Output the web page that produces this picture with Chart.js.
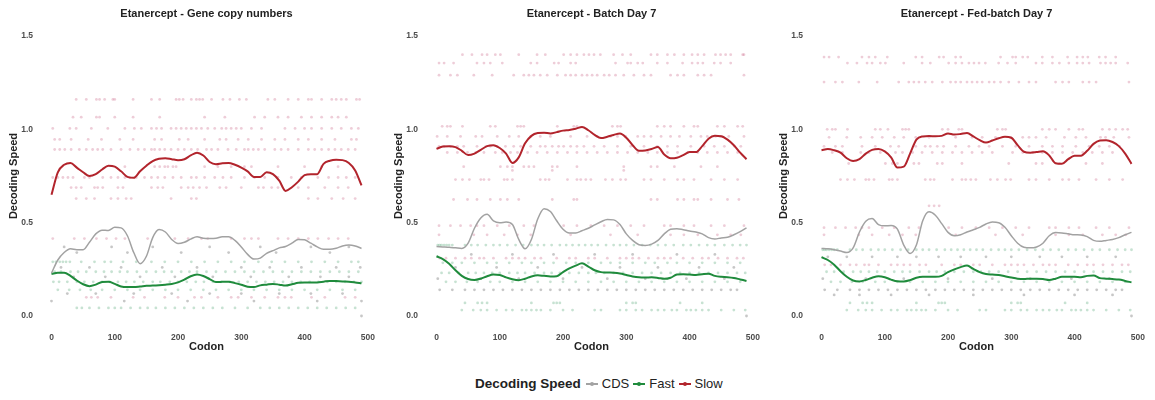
<!DOCTYPE html>
<html>
<head>
<meta charset="utf-8">
<title>Etanercept decoding speed</title>
<script src="https://cdn.jsdelivr.net/npm/chart.js@4/dist/chart.umd.min.js"></script>
<style>
  html, body { margin: 0; padding: 0; background: #fff; }
  body { width: 1155px; height: 400px; position: relative; overflow: hidden;
         font-family: 'Liberation Sans', Arial, sans-serif; }
  .row { display: flex; }
  .row canvas { display: block; }
  #legend { position: absolute; left: 475px; top: 376px; display: flex; align-items: center;
            color: #222; font-size: 13px; white-space: nowrap; }
  #legend .head { font-weight: bold; font-size: 13.5px; margin-right: 5px; }
  #legend .key { position: relative; width: 12px; height: 12px; margin-right: 4px; }
  #legend .key i { position: absolute; left: 0; right: 0; top: 5px; height: 2px; }
  #legend .key b { position: absolute; left: 4px; top: 4px; width: 4px; height: 4px; border-radius: 50%; }
  #legend .lab { margin-right: 4px; }
</style>
</head>
<body>
<div class="row">
  <canvas id="c0" width="385" height="360"></canvas>
  <canvas id="c1" width="385" height="360"></canvas>
  <canvas id="c2" width="385" height="360"></canvas>
</div>
<div id="legend"></div>
<script>
var panelTitles = ['Etanercept - Gene copy numbers', 'Etanercept - Batch Day 7', 'Etanercept - Fed-batch Day 7'];
var speedNames = ['CDS', 'Fast', 'Slow'];
var xTicks = [0, 100, 200, 300, 400, 500];
var yTicks = [0, 0.5, 1.0, 1.5];

// codon positions of the smoothed curves
var codons = [0, 10, 20, 30, 40, 50, 60, 70, 80, 90, 100, 110, 120, 130, 140, 150, 160, 170, 180, 190,
  200, 210, 220, 230, 240, 250, 260, 270, 280, 290, 300, 310, 320, 330, 340, 350, 360, 370, 380, 390,
  400, 410, 420, 430, 440, 450, 460, 470, 480, 490];

// gene copy numbers
var geneSlow = [0.65, 0.77, 0.81, 0.82, 0.795, 0.77, 0.75, 0.76, 0.785, 0.805, 0.80, 0.775, 0.745, 0.74, 0.775,
  0.805, 0.83, 0.842, 0.845, 0.84, 0.835, 0.84, 0.86, 0.875, 0.86, 0.825, 0.813, 0.818, 0.82, 0.81,
  0.795, 0.775, 0.745, 0.745, 0.77, 0.76, 0.725, 0.67, 0.69, 0.72, 0.755, 0.76, 0.76, 0.815, 0.832,
  0.837, 0.835, 0.82, 0.78, 0.70];
var geneCds = [0.23, 0.30, 0.34, 0.36, 0.355, 0.355, 0.395, 0.44, 0.46, 0.458, 0.475, 0.472, 0.43, 0.34, 0.28,
  0.32, 0.42, 0.463, 0.45, 0.41, 0.388, 0.395, 0.412, 0.425, 0.416, 0.415, 0.416, 0.425, 0.425, 0.405,
  0.37, 0.33, 0.305, 0.31, 0.336, 0.35, 0.365, 0.372, 0.39, 0.41, 0.408, 0.39, 0.37, 0.357, 0.357,
  0.363, 0.375, 0.38, 0.375, 0.362];
var geneFast = [0.225, 0.232, 0.232, 0.215, 0.19, 0.17, 0.16, 0.168, 0.182, 0.183, 0.172, 0.158, 0.155, 0.155, 0.158,
  0.162, 0.163, 0.165, 0.168, 0.172, 0.18, 0.195, 0.213, 0.222, 0.214, 0.198, 0.182, 0.183, 0.184, 0.176,
  0.167, 0.157, 0.155, 0.164, 0.168, 0.172, 0.168, 0.163, 0.17, 0.178, 0.18, 0.18, 0.18, 0.184, 0.188,
  0.187, 0.185, 0.184, 0.18, 0.175];

// batch day 7
var batchSlow = [0.895, 0.908, 0.91, 0.905, 0.885, 0.862, 0.87, 0.89, 0.91, 0.915, 0.90, 0.87, 0.82, 0.85, 0.925,
  0.965, 0.98, 0.982, 0.978, 0.985, 0.993, 0.997, 1.003, 1.013, 0.995, 0.97, 0.953, 0.96, 0.97, 0.978,
  0.955, 0.915, 0.885, 0.887, 0.895, 0.905, 0.865, 0.845, 0.848, 0.862, 0.878, 0.878, 0.91, 0.95, 0.965,
  0.963, 0.945, 0.915, 0.875, 0.84];
var batchCds = [0.372, 0.37, 0.368, 0.365, 0.362, 0.39, 0.47, 0.525, 0.545, 0.51, 0.50, 0.503, 0.49, 0.41, 0.36,
  0.41, 0.52, 0.575, 0.56, 0.51, 0.465, 0.445, 0.445, 0.457, 0.47, 0.488, 0.505, 0.517, 0.515, 0.49,
  0.44, 0.405, 0.382, 0.378, 0.385, 0.405, 0.44, 0.465, 0.468, 0.462, 0.455, 0.45, 0.44, 0.42, 0.413,
  0.418, 0.422, 0.435, 0.452, 0.472];
var batchFast = [0.32, 0.305, 0.28, 0.245, 0.215, 0.198, 0.193, 0.20, 0.213, 0.222, 0.22, 0.207, 0.197, 0.192, 0.20,
  0.212, 0.218, 0.215, 0.212, 0.213, 0.235, 0.255, 0.27, 0.282, 0.265, 0.245, 0.235, 0.233, 0.232, 0.228,
  0.22, 0.212, 0.207, 0.206, 0.207, 0.204, 0.199, 0.205, 0.222, 0.224, 0.222, 0.22, 0.224, 0.227, 0.215,
  0.21, 0.208, 0.204, 0.196, 0.188];

// fed-batch day 7
var fedSlow = [0.888, 0.895, 0.888, 0.875, 0.845, 0.83, 0.84, 0.87, 0.89, 0.895, 0.882, 0.85, 0.795, 0.80, 0.87,
  0.945, 0.962, 0.964, 0.963, 0.965, 0.978, 0.972, 0.975, 0.98, 0.962, 0.942, 0.929, 0.94, 0.952, 0.96,
  0.955, 0.915, 0.88, 0.875, 0.878, 0.882, 0.86, 0.818, 0.815, 0.84, 0.858, 0.859, 0.885, 0.922, 0.94,
  0.942, 0.932, 0.91, 0.87, 0.815];
var fedCds = [0.362, 0.36, 0.355, 0.348, 0.34, 0.365, 0.45, 0.508, 0.522, 0.49, 0.483, 0.485, 0.465, 0.38, 0.335,
  0.38, 0.51, 0.558, 0.54, 0.495, 0.448, 0.43, 0.435, 0.45, 0.462, 0.475, 0.493, 0.503, 0.50, 0.475,
  0.43, 0.39, 0.368, 0.365, 0.37, 0.39, 0.43, 0.447, 0.445, 0.44, 0.435, 0.434, 0.425, 0.405, 0.40,
  0.405, 0.41, 0.42, 0.435, 0.448];
var fedFast = [0.315, 0.30, 0.275, 0.24, 0.21, 0.19, 0.185, 0.193, 0.205, 0.213, 0.208, 0.195, 0.186, 0.185, 0.192,
  0.205, 0.21, 0.21, 0.21, 0.215, 0.235, 0.25, 0.262, 0.27, 0.252, 0.235, 0.225, 0.222, 0.22, 0.213,
  0.206, 0.20, 0.198, 0.20, 0.20, 0.198, 0.193, 0.20, 0.21, 0.21, 0.21, 0.207, 0.215, 0.217, 0.203,
  0.20, 0.198, 0.195, 0.188, 0.18];

// per-codon speeds, one row per speed level: [speed, [codons]]
var geneSlowDots = [
  [1.16, [39, 55, 71, 76, 84, 97, 100, 129, 158, 171, 197, 202, 208, 221, 229, 234, 239, 253, 271, 282, 297, 308, 342, 353, 374, 390, 406, 411, 427, 443, 450, 458, 466, 482, 487]],
  [1.065, [34, 47, 71, 76, 100, 129, 171, 242, 274, 321, 337, 358, 374, 395, 411, 427, 443, 453, 466]],
  [1.005, [2, 29, 39, 63, 89, 116, 131, 142, 158, 166, 174, 189, 197, 205, 213, 221, 229, 237, 247, 258, 269, 276, 284, 292, 300, 316, 332, 369, 385, 400, 411, 427, 443, 458, 474, 485]],
  [0.946, [5, 13, 31, 58, 79, 108, 129, 163, 174, 202, 216, 242, 266, 276, 295, 311, 332, 353, 369, 390, 406, 427, 448, 474, 482]],
  [0.892, [5, 13, 21, 31, 44, 55, 65, 73, 81, 94, 110, 124, 137, 147, 158, 163, 171, 179, 189, 200, 210, 221, 231, 245, 253, 263, 279, 292, 305, 311, 319, 327, 337, 353, 363, 374, 390, 406, 416, 427, 438, 448, 458, 469, 480]],
  [0.80, [116, 163, 171, 179, 184, 192, 197, 242, 263, 284, 305, 316, 358, 400, 427, 453]],
  [0.742, [2, 10, 18, 26, 34, 52, 60, 81, 94, 105, 116, 124, 134, 147, 158, 168, 179, 192, 205, 221, 229, 242, 258, 271, 284, 305, 321, 337, 358, 379, 395, 421, 438, 453, 466, 480]],
  [0.688, [31, 39, 47, 68, 73, 81, 105, 113, 158, 168, 176, 205, 216, 224, 234, 245, 266, 276, 300, 327, 335, 348, 358, 390, 406, 432, 453, 469]],
  [0.629, [39, 55, 68, 94, 105, 118, 126, 189, 221, 229, 406, 421, 443, 461, 480]],
  [0.415, [2, 36, 52, 71, 87, 102, 116, 152, 195, 216, 237, 247, 284, 305, 316, 327, 358, 374, 390, 406, 421, 438, 453, 469]],
  [0.10, [55, 63, 73, 94, 129, 147, 179, 200, 226, 237, 263, 284, 295, 316, 337, 358, 369, 379, 411, 432, 464, 480]]
];
var geneFastDots = [
  [0.29, [2, 7, 13, 18, 23, 29, 47, 68, 84, 94, 113, 134, 158, 179, 200, 221, 242, 263, 284, 305, 327, 348, 369, 390, 411, 432, 453, 474, 485]],
  [0.237, [5, 15, 30, 42, 55, 70, 83, 95, 108, 120, 135, 150, 165, 178, 190, 205, 218, 230, 245, 260, 275, 290, 305, 320, 335, 350, 365, 380, 395, 410, 425, 440, 455, 470, 485]],
  [0.183, [3, 12, 25, 40, 52, 66, 80, 92, 105, 118, 131, 145, 160, 172, 187, 200, 214, 228, 241, 255, 268, 282, 296, 310, 324, 338, 352, 366, 380, 394, 408, 422, 436, 450, 464, 478, 490]],
  [0.14, [10, 28, 45, 62, 80, 100, 120, 140, 160, 180, 200, 220, 240, 260, 280, 300, 320, 340, 360, 380, 400, 420, 440, 460, 480]],
  [0.043, [40, 48, 60, 75, 90, 100, 110, 125, 140, 152, 165, 180, 195, 210, 225, 240, 255, 270, 290, 310, 330, 345, 360, 375, 390, 405, 420, 435, 450, 465, 480]]
];
var geneCdsDots = [
  [0.37, [20, 95, 160, 250, 330, 410, 470]],
  [0.34, [40, 120, 205, 280, 355, 440]],
  [0.26, [15, 60, 110, 175, 230, 300, 345, 395, 450, 488]],
  [0.21, [35, 85, 140, 195, 255, 315, 375, 425, 470]],
  [0.12, [25, 70, 130, 190, 250, 300, 360, 410, 460]],
  [0.08, [0, 115, 215, 320, 420, 490]],
  [0.0, [490]]
];

var batchSlowDots = [
  [1.40, [41, 56, 72, 80, 93, 101, 130, 159, 172, 201, 212, 222, 233, 241, 249, 259, 280, 294, 307, 339, 349, 365, 376, 391, 404, 413, 423, 441, 449, 457, 465, 484, 486]],
  [1.355, [4, 12, 27, 64, 75, 85, 104, 149, 159, 186, 193, 212, 220, 283, 302, 307, 318, 326, 349, 365, 389, 404, 413, 421, 439, 449, 465]],
  [1.29, [4, 22, 33, 59, 88, 122, 138, 146, 154, 164, 175, 191, 204, 212, 220, 230, 238, 246, 254, 265, 273, 283, 296, 312, 328, 339, 370, 381, 391, 413, 423, 434, 486]],
  [1.016, [9, 17, 22, 41, 85, 93, 128, 133, 138, 191, 217, 222, 278, 286, 291, 349, 360, 370, 391, 407, 413, 444, 455, 476, 484]],
  [0.962, [1, 17, 38, 62, 72, 96, 115, 130, 149, 164, 180, 212, 238, 254, 275, 286, 299, 318, 328, 339, 355, 370, 384, 402, 418, 428, 441, 449, 462, 486]],
  [0.909, [4, 12, 22, 33, 43, 64, 78, 85, 96, 109, 122, 133, 149, 164, 172, 183, 193, 201, 212, 222, 233, 249, 265, 286, 307, 328, 349, 365, 381, 402, 423, 439, 455, 471, 481]],
  [0.876, [17, 33, 49, 62, 75, 93, 104, 117, 128, 144, 159, 175, 191, 207, 222, 238, 254, 270, 286, 302, 318, 334, 349, 365, 381, 397, 413, 428, 444, 460, 476]],
  [0.80, [43, 101, 112, 120, 138, 146, 154, 183, 191, 222, 296, 339, 349, 376, 418, 444]],
  [0.78, [120, 183, 296]],
  [0.731, [30, 41, 52, 70, 75, 83, 107, 112, 120, 164, 172, 178, 207, 222, 228, 236, 244, 267, 278, 291, 299, 328, 339, 360, 381, 391, 407, 434, 455, 476]],
  [0.624, [27, 49, 64, 85, 101, 112, 130, 183, 217, 222, 339, 349, 381, 391, 407, 413, 434, 460, 478]],
  [0.484, [4, 22, 38, 54, 64, 75, 96, 115, 138, 154, 201, 222, 244, 265, 286, 307, 328, 360, 370, 391, 407, 434, 455, 486]],
  [0.435, [4, 59, 80, 107, 128, 149, 212, 275, 318, 370, 391, 413, 444, 465, 481]],
  [0.31, [5, 15, 30, 45, 55, 68, 75, 90, 110, 120, 130, 140, 155, 165, 190, 210, 220, 240, 250, 270, 290, 300, 310, 320, 335, 350, 360, 370, 390, 405, 420, 430, 445, 460, 475, 485]]
];
var batchFastDots = [
  [0.38, [2, 5, 8, 12, 16, 20, 25, 45, 55, 65, 78, 90, 100, 112, 125, 137, 150, 160, 170, 182, 195, 205, 215, 225, 235, 245, 255, 268, 280, 290, 300, 312, 325, 338, 350, 362, 375, 390, 402, 415, 428, 440, 455, 468, 480, 490]],
  [0.285, [10, 25, 40, 60, 80, 95, 115, 135, 150, 170, 185, 205, 220, 240, 260, 275, 290, 310, 330, 345, 365, 380, 400, 420, 440, 460, 480]],
  [0.231, [8, 20, 35, 50, 62, 75, 88, 100, 115, 128, 140, 155, 170, 182, 195, 210, 225, 240, 252, 265, 280, 295, 310, 325, 340, 355, 370, 385, 400, 415, 430, 445, 460, 475, 488]],
  [0.183, [15, 30, 48, 65, 85, 100, 120, 140, 160, 180, 200, 220, 240, 260, 280, 300, 320, 340, 360, 380, 400, 420, 440, 460, 480]],
  [0.07, [45, 65, 72, 80, 150, 185, 190, 195, 300, 310, 315, 385, 420]],
  [0.032, [40, 58, 70, 80, 95, 110, 120, 135, 142, 150, 158, 165, 180, 200, 215, 250, 260, 290, 300, 315, 325, 340, 350, 360, 372, 380, 395, 402, 410, 420, 430, 450, 470, 488]]
];
var batchCdsDots = [
  [0.33, [55, 120, 185, 250, 310, 380, 440]],
  [0.26, [30, 95, 160, 230, 290, 350, 415, 470]],
  [0.20, [2, 70, 130, 200, 270, 330, 395, 455]],
  [0.14, [5, 25, 45, 60, 75, 90, 105, 120, 135, 150, 165, 180, 195, 210, 225, 240, 255, 270, 285, 300, 315, 330, 345, 360, 375, 390, 405, 420, 435, 450, 465, 475]],
  [0.0, [490]]
];

var fedSlowDots = [
  [1.387, [4, 12, 27, 64, 75, 85, 104, 149, 159, 186, 193, 212, 220, 283, 302, 307, 318, 326, 349, 365, 389, 404, 413, 421, 439, 449, 465]],
  [1.355, [41, 56, 72, 80, 93, 101, 130, 159, 172, 201, 212, 222, 233, 241, 249, 259, 280, 294, 307, 339, 349, 365, 376, 391, 404, 413, 423, 441, 449, 457, 465, 484]],
  [1.253, [4, 22, 33, 59, 88, 122, 138, 146, 154, 164, 175, 191, 204, 212, 220, 230, 238, 246, 254, 265, 273, 283, 296, 312, 328, 339, 370, 381, 391, 413, 423, 434, 486]],
  [1.0, [9, 17, 22, 41, 85, 93, 105, 128, 133, 138, 191, 200, 217, 222, 278, 286, 291, 349, 360, 370, 391, 407, 413, 444, 455, 465, 476, 484]],
  [0.957, [12, 40, 62, 80, 96, 115, 130, 149, 170, 212, 238, 254, 275, 299, 318, 328, 339, 355, 384, 402, 418, 441, 449, 462, 486]],
  [0.909, [4, 22, 33, 64, 85, 109, 122, 149, 164, 172, 183, 193, 212, 233, 249, 265, 286, 307, 328, 349, 365, 381, 402, 423, 439, 455, 471]],
  [0.876, [17, 33, 62, 75, 93, 117, 128, 144, 159, 175, 191, 207, 222, 238, 254, 270, 302, 318, 334, 349, 365, 381, 397, 413, 428, 444, 460]],
  [0.817, [43, 101, 112, 120, 146, 154, 183, 191, 222, 296, 339, 349, 376, 418, 444]],
  [0.731, [30, 41, 52, 70, 75, 83, 107, 112, 120, 164, 172, 178, 207, 222, 228, 236, 244, 267, 278, 291, 299, 328, 339, 360, 381, 391, 407, 434, 455, 476]],
  [0.59, [170, 178, 186]],
  [0.473, [4, 22, 38, 54, 64, 75, 96, 115, 138, 154, 201, 222, 244, 265, 286, 307, 328, 360, 370, 391, 407, 434, 455, 486]],
  [0.435, [4, 59, 80, 107, 128, 149, 212, 275, 318, 370, 391, 413, 444, 465, 481]],
  [0.274, [5, 15, 30, 45, 55, 68, 75, 90, 110, 120, 130, 140, 155, 165, 190, 210, 220, 240, 250, 270, 290, 300, 310, 320, 335, 350, 360, 370, 390, 405, 420, 430, 445, 460, 475, 485]]
];
var fedFastDots = [
  [0.355, [2, 5, 8, 12, 16, 20, 25, 45, 55, 65, 78, 90, 100, 112, 125, 137, 150, 160, 170, 182, 195, 205, 215, 225, 235, 245, 255, 268, 280, 290, 300, 312, 325, 338, 350, 362, 375, 390, 402, 415, 428, 440, 455, 468, 480, 490]],
  [0.237, [8, 20, 35, 50, 62, 75, 88, 100, 115, 128, 140, 155, 170, 182, 195, 210, 225, 240, 252, 265, 280, 295, 310, 325, 340, 355, 370, 385, 400, 415, 430, 445, 460, 475, 488]],
  [0.183, [15, 30, 48, 65, 85, 100, 120, 140, 160, 180, 200, 220, 240, 260, 280, 300, 320, 340, 360, 380, 400, 420, 440, 460, 480]],
  [0.07, [45, 65, 72, 80, 150, 185, 190, 195, 300, 310, 315, 385, 420]],
  [0.032, [40, 58, 70, 80, 95, 110, 120, 135, 142, 150, 158, 165, 180, 200, 215, 250, 260, 290, 300, 315, 325, 340, 350, 360, 372, 380, 395, 402, 410, 420, 430, 450, 470, 488]]
];
var fedCdsDots = [
  [0.317, [10, 40, 80, 120, 150, 185, 220, 260, 300, 345, 380, 420, 465]],
  [0.20, [2, 70, 130, 200, 270, 330, 395, 455]],
  [0.14, [5, 25, 45, 60, 75, 90, 105, 120, 135, 150, 165, 180, 195, 210, 225, 240, 255, 270, 285, 300, 315, 330, 345, 360, 375, 390, 405, 420, 435, 450, 465, 475]],
  [0.113, [20, 60, 110, 170, 240, 320, 400, 460]],
  [0.0, [490]]
];

var lineColors = { CDS: '#a2a2a2', Fast: '#1f8b3c', Slow: '#b2242c' };
var dotColors = { CDS: 'rgba(70, 70, 70, 0.3)', Fast: 'rgba(70, 160, 105, 0.3)', Slow: 'rgba(200, 90, 125, 0.3)' };
var FONT = "'Liberation Sans', Arial, sans-serif";

var panels = [
  { title: panelTitles[0], lines: [geneCds, geneFast, geneSlow], dots: [geneCdsDots, geneFastDots, geneSlowDots] },
  { title: panelTitles[1], lines: [batchCds, batchFast, batchSlow], dots: [batchCdsDots, batchFastDots, batchSlowDots] },
  { title: panelTitles[2], lines: [fedCds, fedFast, fedSlow], dots: [fedCdsDots, fedFastDots, fedSlowDots] }
];

function curve(values) {
  return values.map(function (v, i) { return { x: codons[i], y: v }; });
}

function rowsToPoints(rows) {
  var pts = [];
  rows.forEach(function (r) {
    r[1].forEach(function (c) { pts.push({ x: c, y: r[0] }); });
  });
  return pts;
}

// title centred over the plotting area, like the facet headings
var panelTitle = {
  id: 'panelTitle',
  afterDraw: function (chart, args, opts) {
    var a = chart.chartArea, ctx = chart.ctx;
    ctx.save();
    ctx.font = 'bold 11px ' + FONT;
    ctx.fillStyle = '#222';
    ctx.textAlign = 'center';
    ctx.textBaseline = 'middle';
    ctx.fillText(opts.text, (a.left + a.right) / 2, 13.5);
    ctx.restore();
  }
};

function renderPanel(id, p) {
  var datasets = [];
  // smoothed curves on top
  speedNames.forEach(function (name, i) {
    datasets.push({
      label: name,
      data: curve(p.lines[i]),
      showLine: true,
      borderColor: lineColors[name],
      borderWidth: name === 'CDS' ? 1.5 : 2,
      pointRadius: 0,
      cubicInterpolationMode: 'monotone',
      order: 0
    });
  });
  // raw codon speeds underneath
  speedNames.forEach(function (name, i) {
    datasets.push({
      label: name + ' codons',
      data: rowsToPoints(p.dots[i]),
      pointRadius: 1.4,
      pointBorderWidth: 0,
      backgroundColor: dotColors[name],
      borderColor: dotColors[name],
      order: 1
    });
  });

  var tickFont = { family: FONT, size: 8.5, weight: 'bold' };
  var titleFont = { family: FONT, size: 11, weight: 'bold' };

  new Chart(document.getElementById(id).getContext('2d'), {
    type: 'scatter',
    data: { datasets: datasets },
    options: {
      responsive: false,
      animation: false,
      events: [],
      layout: { padding: { top: 22, right: 8, bottom: 6, left: 0 } },
      plugins: {
        legend: { display: false },
        tooltip: { enabled: false },
        panelTitle: { text: p.title }
      },
      scales: {
        x: {
          type: 'linear',
          min: -24.5,
          max: 514.5,
          grid: { display: false, drawTicks: false },
          border: { display: false },
          afterBuildTicks: function (s) { s.ticks = xTicks.map(function (v) { return { value: v }; }); },
          afterFit: function (s) { s.height = 24; },
          ticks: { font: tickFont, color: '#4d4d4d', padding: 2.5, maxRotation: 0,
                   callback: function (v) { return String(v); } },
          title: { display: true, text: 'Codon', font: titleFont, color: '#222', padding: { top: 0, bottom: 0 } }
        },
        y: {
          type: 'linear',
          min: -0.075,
          max: 1.575,
          grid: { display: false, drawTicks: false },
          border: { display: false },
          afterBuildTicks: function (s) { s.ticks = yTicks.map(function (v) { return { value: v }; }); },
          afterFit: function (s) { s.width = 36; },
          ticks: { font: tickFont, color: '#4d4d4d', padding: 3,
                   callback: function (v) { return Number(v).toFixed(1); } },
          title: { display: true, text: 'Decoding Speed', font: titleFont, color: '#222', padding: { top: 7, bottom: 0 } }
        }
      }
    },
    plugins: [panelTitle]
  });
}

function renderLegend() {
  var box = document.getElementById('legend');
  var html = '<span class="head">Decoding Speed</span>';
  speedNames.forEach(function (name) {
    var c = lineColors[name];
    html += '<span class="key"><i style="background:' + c + '"></i><b style="background:' + c + '"></b></span>' +
            '<span class="lab">' + name + '</span>';
  });
  box.innerHTML = html;
}

panels.forEach(function (p, i) { renderPanel('c' + i, p); });
renderLegend();
</script>
</body>
</html>
